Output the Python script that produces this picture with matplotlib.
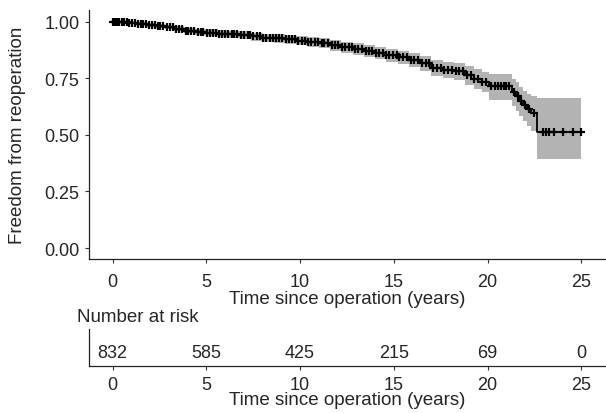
import numpy as np
import matplotlib
matplotlib.use("Agg")
import matplotlib.pyplot as plt

plt.rcParams["font.family"] = ["Liberation Sans", "DejaVu Sans"]

# Kaplan-Meier estimate (step function, 'post')
km_time = [0, 0.3, 0.8, 1.3, 1.8, 2.3, 2.8, 3.3, 3.8, 4.4, 5.0, 5.6, 6.2, 6.8,
           7.4, 8.0, 8.6, 9.2, 9.8, 10.4, 11.0, 11.6, 12.2, 12.8, 13.4, 14.0,
           14.6, 15.2, 15.8, 16.4, 17.0, 17.6, 18.2, 18.8, 19.3, 19.7, 20.05,
           21.3, 21.5, 21.7, 21.9, 22.1, 22.3, 22.65, 25.0]
km_surv = [1.0, 0.996, 0.993, 0.990, 0.985, 0.980, 0.975, 0.968, 0.960, 0.955,
           0.951, 0.947, 0.944, 0.940, 0.934, 0.929, 0.925, 0.921, 0.916, 0.910,
           0.904, 0.895, 0.886, 0.879, 0.872, 0.862, 0.852, 0.842, 0.832, 0.815,
           0.797, 0.787, 0.780, 0.763, 0.748, 0.735, 0.714, 0.690, 0.672, 0.650,
           0.630, 0.612, 0.597, 0.512, 0.512]
km_upper = [1.0, 1.0, 0.998, 0.996, 0.993, 0.989, 0.985, 0.979, 0.972, 0.968,
            0.965, 0.962, 0.959, 0.956, 0.951, 0.947, 0.944, 0.940, 0.936,
            0.931, 0.926, 0.918, 0.910, 0.904, 0.898, 0.889, 0.880, 0.871,
            0.862, 0.847, 0.831, 0.823, 0.818, 0.803, 0.790, 0.779, 0.768,
            0.748, 0.732, 0.712, 0.695, 0.682, 0.670, 0.664, 0.664]
km_lower = [1.0, 0.992, 0.987, 0.983, 0.977, 0.971, 0.965, 0.957, 0.948, 0.942,
            0.937, 0.932, 0.928, 0.923, 0.916, 0.910, 0.905, 0.901, 0.895,
            0.888, 0.881, 0.871, 0.861, 0.853, 0.845, 0.834, 0.823, 0.812,
            0.800, 0.781, 0.761, 0.749, 0.740, 0.720, 0.703, 0.688, 0.655,
            0.628, 0.606, 0.582, 0.560, 0.538, 0.515, 0.393, 0.393]

censor_time = [0.05, 0.15, 0.22, 0.35, 0.5, 0.62, 0.75, 0.9, 1.05, 1.2, 1.35,
               1.5, 1.62, 1.78, 1.95, 2.1, 2.25, 2.4, 2.55, 2.7, 2.9, 3.05,
               3.2, 3.4, 3.55, 3.7, 3.9, 4.05, 4.2, 4.35, 4.55, 4.7, 4.85, 5.05,
               5.2, 5.35, 5.5, 5.7, 5.85, 6.0, 6.15, 6.35, 6.5, 6.65, 6.85, 7.0,
               7.2, 7.35, 7.5, 7.7, 7.85, 8.05, 8.2, 8.4, 8.55, 8.7, 8.9, 9.05,
               9.25, 9.4, 9.55, 9.75, 9.9, 10.1, 10.25, 10.45, 10.6, 10.8, 10.95,
               11.15, 11.3, 11.5, 11.7, 11.85, 12.05, 12.25, 12.4, 12.6, 12.75,
               12.95, 13.1, 13.3, 13.5, 13.65, 13.85, 14.05, 14.2, 14.4, 14.6,
               14.75, 14.95, 15.15, 15.3, 15.5, 15.7, 15.9, 16.1, 16.3, 16.5,
               16.7, 16.9, 17.1, 17.3, 17.5, 17.7, 17.9, 18.1, 18.3, 18.5, 18.7,
               18.9, 19.1, 19.3, 19.5, 19.7, 19.9, 20.2, 20.4, 20.55, 20.7,
               20.85, 21.0, 21.15, 21.4, 21.6, 21.8, 22.0, 22.2, 22.5, 22.94,
               23.12, 23.3, 23.56, 24.04, 24.54, 25.0]

risk_years = [0, 5, 10, 15, 20, 25]
at_risk = [832, 585, 425, 215, 69, 0]

TEXT = "#262626"
FS_LABEL = 13.5
FS_TICK = 13
fig = plt.figure(figsize=(6.06, 4.14), dpi=100)

ax = fig.add_axes([0.147, 0.371, 0.851, 0.602])
ax.fill_between(km_time, km_lower, km_upper, step="post", color="#b3b3b3", lw=0)
ax.step(km_time, km_surv, where="post", color="black", lw=1.3)
idx = np.searchsorted(km_time, censor_time, side="right") - 1
ax.plot(censor_time, np.asarray(km_surv)[idx], ls="none", marker="+",
        color="black", ms=5.5, mew=1.6)
ax.set_xlim(-1.25, 26.25)
ax.set_ylim(-0.05, 1.05)
ax.set_xticks(risk_years)
ax.set_yticks([0, 0.25, 0.5, 0.75, 1.0])
ax.set_yticklabels(["0.00", "0.25", "0.50", "0.75", "1.00"])
ax.set_xlabel("Time since operation (years)", fontsize=FS_LABEL, color=TEXT,
              labelpad=0)
ax.set_ylabel("Freedom from reoperation", fontsize=FS_LABEL, color=TEXT,
              labelpad=13)

tab = fig.add_axes([0.147, 0.1135, 0.851, 0.089])
for y, n in zip(risk_years, at_risk):
    tab.text(y, 0.38, str(n), ha="center", va="center", fontsize=FS_TICK,
             color=TEXT)
tab.set_xlim(-1.25, 26.25)
tab.set_ylim(0, 1)
tab.set_xticks(risk_years)
tab.set_yticks([])
tab.set_xlabel("Time since operation (years)", fontsize=FS_LABEL, color=TEXT,
               labelpad=-1)
fig.text(0.127, 0.234, "Number at risk", ha="left", va="center",
         fontsize=FS_LABEL, color=TEXT)

for a in (ax, tab):
    for side in ("top", "right"):
        a.spines[side].set_visible(False)
    for side in ("left", "bottom"):
        a.spines[side].set_linewidth(0.9)
        a.spines[side].set_color("#222222")
    a.tick_params(length=3, width=0.8, color="#333333", labelsize=FS_TICK,
                  labelcolor=TEXT, pad=4)
ax.tick_params(axis="x", pad=7)
tab.tick_params(axis="x", pad=4)

fig.savefig("out.png", dpi=100, facecolor="white")
